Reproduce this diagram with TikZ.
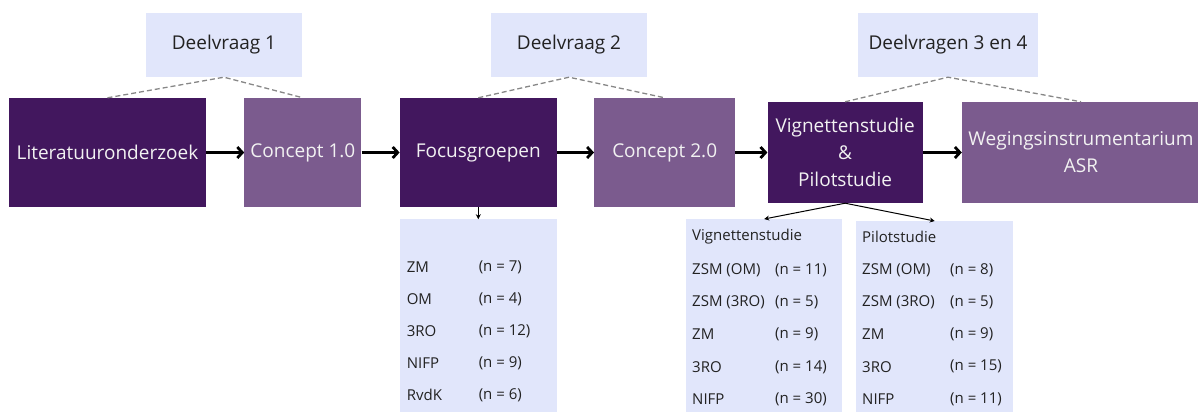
\documentclass[tikz,border=0pt]{standalone}
\usepackage{fontspec}
\setmainfont{Open Sans}
\usetikzlibrary{positioning,arrows.meta,calc}
\definecolor{darkpurple}{HTML}{42175E}
\definecolor{lightpurple}{HTML}{7B5B8E}
\definecolor{lavender}{HTML}{E1E6FB}
\definecolor{boxtext}{HTML}{F2F2F2}
\definecolor{listtext}{HTML}{222222}
\definecolor{dashgray}{HTML}{878787}

\begin{document}
\begin{tikzpicture}[x=1pt,y=-1pt,>={Straight Barb[length=5pt,width=11pt]},
  phase node/.style={minimum height=109pt,inner sep=0pt,text=boxtext,
  font=\fontsize{19}{27}\selectfont,align=center},
  dark node/.style={phase node,fill=darkpurple},
  light node/.style={phase node,fill=lightpurple},
  question node/.style={fill=lavender,minimum height=64pt,inner sep=0pt,
  text=listtext,font=\fontsize{19}{22}\selectfont},
  list node/.style={fill=lavender,inner sep=0pt},
  item/.style={anchor=west,inner sep=0pt,text=listtext,
  font=\fontsize{15}{17}\selectfont},
  flow/.style={->,line width=2.8pt},
  part/.style={dash pattern=on 5pt off 3pt,dashgray,line width=1.3pt},
  split/.style={-{Stealth[length=5pt,width=5pt]},line width=1pt}]

  \useasboundingbox (0,0) rectangle (1198,412);

  % hoofdstappen
  \node[dark node, minimum width=197pt] (lit) at (107.5,152.5) {Literatuuronderzoek};
  \node[light node, minimum width=117pt] (c1) [right=38pt of lit] {Concept 1.0};
  \node[dark node, minimum width=157pt] (focus) [right=38pt of c1] {Focusgroepen};
  \node[light node, minimum width=141pt] (c2) [right=37pt of focus] {Concept 2.0};
  \node[dark node, minimum width=155pt, minimum height=101pt] (vign) [right=32pt of c2]
    {Vignettenstudie\\\&\\Pilotstudie};
  \node[light node, minimum width=238pt, minimum height=101pt] (weg) [right=39pt of vign]
    {Wegingsinstrumentarium\\ASR};

  % deelvragen
  \node[question node, minimum width=156pt] (dv1) at (224,45) {Deelvraag 1};
  \node[question node, minimum width=156pt] (dv2) at (569,45) {Deelvraag 2};
  \node[question node, minimum width=180pt] (dv3) at (948,45) {Deelvragen 3 en 4};

  \draw[part] (lit.north) -- (dv1.south) -- (c1.north);
  \draw[part] (focus.north) -- (dv2.south) -- (c2.north);
  \draw[part] (vign.north) -- (dv3.south) -- (weg.north);

  \draw[flow] (lit) -- (c1);
  \draw[flow] (c1) -- (focus);
  \draw[flow] (focus) -- (c2);
  \draw[flow] (c2) -- (vign);
  \draw[flow] (vign) -- (weg);

  % deelnemers
  \node[list node, anchor=north, minimum width=157pt, minimum height=193pt] (fglist)
    [below=12pt of focus] {};
  \node[list node, anchor=north west, minimum width=156pt, minimum height=193pt] (vlist)
    at (686,219) {};
  \node[list node, anchor=north west, minimum width=157pt, minimum height=191pt] (plist)
    at (856,221) {};

  \draw[split] (focus.south) -- (fglist.north);
  \draw[split] (vign.south) -- (vlist.north);
  \draw[split] (vign.south) -- (plist.north);

  \foreach \lab/\val [count=\i] in {ZM/7, OM/4, 3RO/12, NIFP/9, RvdK/6} {
    \node[item] (fg lab\i) at ($(fglist.north west)+(7,{16+32*\i})$) {\lab};
    \node[item] (fg val\i) at ($(fglist.north west)+(79,{16+32*\i})$) {(n = \val)};
  }

  \node[item] (vhead) at ($(vlist.north west)+(6,18)$) {Vignettenstudie};
  \foreach \lab/\val [count=\i] in {{ZSM (OM)}/11, {ZSM (3RO)}/5, ZM/9, 3RO/14, NIFP/30} {
    \node[item] (v lab\i) at ($(vlist.north west)+(6,{19+32.2*\i})$) {\lab};
    \node[item] (v val\i) at ($(vlist.north west)+(89,{19+32.2*\i})$) {(n = \val)};
  }

  \node[item] (phead) at ($(plist.north west)+(6,16)$) {Pilotstudie};
  \foreach \lab/\val [count=\i] in {{ZSM (OM)}/8, {ZSM (3RO)}/5, ZM/9, 3RO/15, NIFP/11} {
    \node[item] (p lab\i) at ($(plist.north west)+(6,{17+32.2*\i})$) {\lab};
    \node[item] (p val\i) at ($(plist.north west)+(94,{17+32.2*\i})$) {(n = \val)};
  }

\end{tikzpicture}
\end{document}
